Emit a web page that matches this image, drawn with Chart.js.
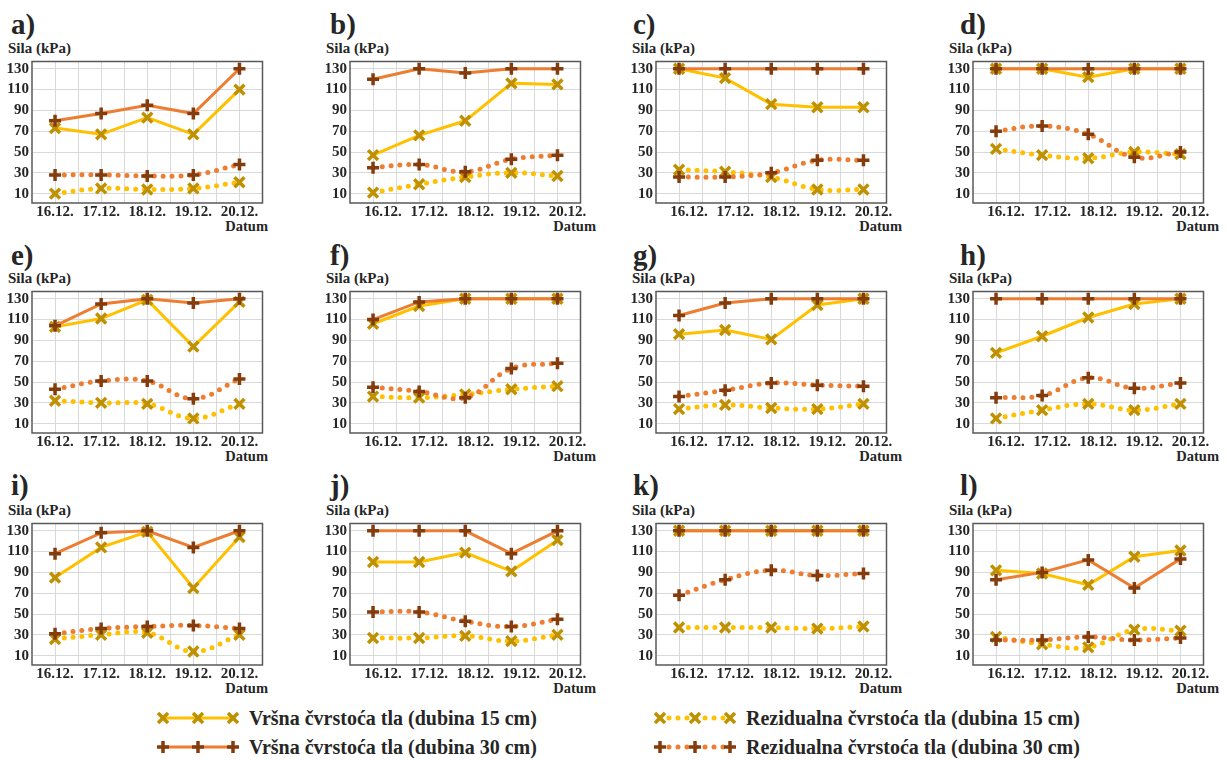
<!DOCTYPE html>
<html>
<head>
<meta charset="utf-8">
<script src="https://cdn.jsdelivr.net/npm/chart.js@4/dist/chart.umd.min.js"></script>
<style>
  body { margin: 0; background: #fff; width: 1227px; height: 760px; position: relative; overflow: hidden;
         font-family: 'Liberation Serif', 'Times New Roman', Times, serif; font-weight: bold; color: #262626; }
  .pl { position: absolute; font-size: 29px; line-height: 1; }
  .sila { position: absolute; font-size: 15px; line-height: 1; }
  .datum { position: absolute; font-size: 14.5px; line-height: 1; text-align: right; width: 60px; }
  canvas { position: absolute; }
  .leg { position: absolute; font-size: 20px; line-height: 1; }
  svg { position: absolute; }
</style>
</head>
<body>
<script>
var dates = ['16.12.', '17.12.', '18.12.', '19.12.', '20.12.'];
var panelLabels = ['a)', 'b)', 'c)', 'd)', 'e)', 'f)', 'g)', 'h)', 'i)', 'j)', 'k)', 'l)'];
var yTicks = [10, 20, 30, 40, 50, 60, 70, 80, 90, 100, 110, 120, 130];

// Vršna čvrstoća tla (dubina 15 cm), one row per panel a..l
var peak15 = [
  [73, 67, 83, 67, 110],
  [47, 66, 80, 116, 115],
  [130, 121, 96, 93, 93],
  [130, 130, 122, 130, 130],
  [103, 111, 129, 84, 127],
  [106, 123, 130, 130, 130],
  [96, 100, 91, 124, 130],
  [78, 94, 112, 125, 130],
  [85, 114, 129, 75, 124],
  [100, 100, 109, 91, 121],
  [130, 130, 130, 130, 130],
  [92, 89, 78, 105, 111]
];
// Vršna čvrstoća tla (dubina 30 cm)
var peak30 = [
  [80, 87, 95, 87, 130],
  [120, 130, 126, 130, 130],
  [130, 130, 130, 130, 130],
  [130, 130, 130, 130, 130],
  [104, 125, 130, 126, 130],
  [110, 127, 130, 130, 130],
  [114, 126, 130, 130, 130],
  [130, 130, 130, 130, 130],
  [108, 128, 130, 114, 130],
  [130, 130, 130, 108, 130],
  [130, 130, 130, 130, 130],
  [83, 90, 102, 75, 103]
];
// Rezidualna čvrstoća tla (dubina 15 cm)
var res15 = [
  [10, 15, 14, 15, 21],
  [11, 19, 26, 30, 27],
  [33, 31, 26, 14, 14],
  [53, 47, 44, 50, 48],
  [32, 30, 29, 15, 29],
  [36, 35, 38, 43, 46],
  [24, 28, 25, 24, 29],
  [15, 23, 29, 23, 29],
  [26, 30, 32, 14, 30],
  [27, 27, 29, 24, 30],
  [37, 37, 37, 36, 38],
  [28, 21, 18, 35, 34]
];
// Rezidualna čvrstoća tla (dubina 30 cm)
var res30 = [
  [28, 28, 27, 28, 38],
  [35, 38, 31, 43, 47],
  [26, 26, 30, 42, 42],
  [70, 75, 67, 45, 50],
  [43, 51, 51, 34, 53],
  [45, 41, 35, 63, 68],
  [36, 42, 49, 47, 46],
  [35, 37, 54, 44, 49],
  [31, 36, 38, 39, 36],
  [52, 52, 43, 38, 45],
  [68, 83, 92, 87, 89],
  [25, 25, 28, 25, 27]
];

var yellow = '#FFC000', gold = '#BF9000', orange = '#ED7D31', brown = '#843C0C';
var colLeft = [32, 350, 656, 973];
var rowTop = [57, 287, 519];
var boxW = 235, boxH = 146;
var labelX = [11, 330, 633, 960];
var labelY = [10, 241, 471];
var font = "'Liberation Serif', 'Times New Roman', serif";

var frame = {
  id: 'frame',
  beforeDatasetsDraw: function (chart) {
    var a = chart.chartArea, ctx = chart.ctx;
    ctx.save();
    ctx.strokeStyle = '#595959';
    ctx.lineWidth = 1.5;
    ctx.strokeRect(a.left, a.top, a.right - a.left, a.bottom - a.top);
    ctx.restore();
  }
};

function noPad(s) {
  s.paddingLeft = 0; s.paddingRight = 0; s.paddingTop = 0; s.paddingBottom = 0;
}

function pts(arr) {
  return arr.map(function (v, i) { return { x: i, y: v }; });
}

function addText(cls, text, left, top) {
  var d = document.createElement('div');
  d.className = cls;
  d.textContent = text;
  d.style.left = left + 'px';
  d.style.top = top + 'px';
  document.body.appendChild(d);
}

for (var p = 0; p < 12; p++) {
  var col = p % 4, row = Math.floor(p / 4);
  var bl = colLeft[col], bt = rowTop[row];
  var shift = col === 0 ? 0 : 10;

  addText('pl', panelLabels[p], labelX[col], labelY[row]);
  addText('sila', 'Sila (kPa)', bl - 24, bt - 16);
  addText('datum', 'Datum', bl + boxW - 60 + shift + 1, bt + boxH + 16);

  var cv = document.createElement('canvas');
  cv.width = boxW + 40;
  cv.height = boxH + 38;
  cv.style.left = (bl - 34) + 'px';
  cv.style.top = (bt - 6) + 'px';
  document.body.appendChild(cv);

  new Chart(cv, {
    type: 'line',
    data: {
      datasets: [{
          label: 'Vršna čvrstoća tla (dubina 30 cm)',
          data: pts(peak30[p]),
          borderColor: orange, borderWidth: 3,
          pointStyle: 'cross', pointRadius: 6, pointBorderWidth: 3.5,
          pointBorderColor: brown, pointBackgroundColor: brown, tension: 0
        }, {
          label: 'Vršna čvrstoća tla (dubina 15 cm)',
          data: pts(peak15[p]),
          borderColor: yellow, borderWidth: 3,
          pointStyle: 'crossRot', pointRadius: 7, pointBorderWidth: 3.5,
          pointBorderColor: gold, pointBackgroundColor: gold, tension: 0
        }, {
          label: 'Rezidualna čvrstoća tla (dubina 30 cm)',
          data: pts(res30[p]),
          borderColor: orange, borderWidth: 5, borderDash: [0, 9], borderCapStyle: 'round',
          pointStyle: 'cross', pointRadius: 6, pointBorderWidth: 3.5,
          pointBorderColor: brown, pointBackgroundColor: brown, tension: 0.4
        }, {
          label: 'Rezidualna čvrstoća tla (dubina 15 cm)',
          data: pts(res15[p]),
          borderColor: yellow, borderWidth: 5, borderDash: [0, 9], borderCapStyle: 'round',
          pointStyle: 'crossRot', pointRadius: 7, pointBorderWidth: 3.5,
          pointBorderColor: gold, pointBackgroundColor: gold, tension: 0.4
        }
      ]
    },
    options: {
      responsive: false,
      animation: false,
      events: [],
      layout: { padding: { top: 6, right: 6, left: 0, bottom: 0 } },
      plugins: { legend: { display: false }, tooltip: { enabled: false } },
      scales: {
        x: {
          type: 'linear', min: -0.5, max: 4.5,
          afterFit: function (s) { s.height = 32; noPad(s); },
          afterBuildTicks: function (s) {
            s.ticks = [0, 0.5, 1, 1.5, 2, 2.5, 3, 3.5, 4].map(function (v) { return { value: v }; });
          },
          grid: { color: '#d9d9d9', drawTicks: false },
          border: { display: false },
          ticks: {
            autoSkip: false, maxRotation: 0, padding: 0, labelOffset: shift,
            color: '#262626', font: { family: font, size: 15, weight: 'bold' },
            callback: function (v) { return Number.isInteger(v) ? dates[v] : ''; }
          }
        },
        y: {
          min: 1, max: 137,
          afterFit: function (s) { s.width = 34; noPad(s); },
          afterBuildTicks: function (s) {
            s.ticks = yTicks.map(function (v) { return { value: v }; });
          },
          grid: { color: '#d9d9d9', drawTicks: false },
          border: { display: false },
          ticks: {
            padding: 3, color: '#262626', font: { family: font, size: 15, weight: 'bold' },
            callback: function (v) { return v % 20 === 10 ? v : ''; }
          }
        }
      }
    },
    plugins: [frame]
  });
}

// shared legend at the bottom
var legendItems = [
  ['Vršna čvrstoća tla (dubina 15 cm)', yellow, gold, 'x', false, 157, 708],
  ['Vršna čvrstoća tla (dubina 30 cm)', orange, brown, '+', false, 157, 737],
  ['Rezidualna čvrstoća tla (dubina 15 cm)', yellow, gold, 'x', true, 654, 708],
  ['Rezidualna čvrstoća tla (dubina 30 cm)', orange, brown, '+', true, 654, 737]
];
legendItems.forEach(function (it) {
  var ns = 'http://www.w3.org/2000/svg';
  var svg = document.createElementNS(ns, 'svg');
  svg.setAttribute('width', 84);
  svg.setAttribute('height', 20);
  svg.style.left = it[5] + 'px';
  svg.style.top = it[6] + 'px';
  var ln = document.createElementNS(ns, 'line');
  ln.setAttribute('x1', 6); ln.setAttribute('x2', 76);
  ln.setAttribute('y1', 10); ln.setAttribute('y2', 10);
  ln.setAttribute('stroke', it[1]);
  if (it[4]) {
    ln.setAttribute('stroke-width', 5);
    ln.setAttribute('stroke-dasharray', '0 9');
    ln.setAttribute('stroke-linecap', 'round');
  } else {
    ln.setAttribute('stroke-width', 3);
  }
  svg.appendChild(ln);
  [6, 41, 76].forEach(function (cx) {
    var segs = it[3] === 'x'
      ? [[cx - 5, 5, cx + 5, 15], [cx - 5, 15, cx + 5, 5]]
      : [[cx - 6, 10, cx + 6, 10], [cx, 4, cx, 16]];
    segs.forEach(function (s) {
      var m = document.createElementNS(ns, 'line');
      m.setAttribute('x1', s[0]); m.setAttribute('y1', s[1]);
      m.setAttribute('x2', s[2]); m.setAttribute('y2', s[3]);
      m.setAttribute('stroke', it[2]);
      m.setAttribute('stroke-width', 3.5);
      svg.appendChild(m);
    });
  });
  document.body.appendChild(svg);
  addText('leg', it[0], it[5] + 92, it[6]);
});
</script>
</body>
</html>
